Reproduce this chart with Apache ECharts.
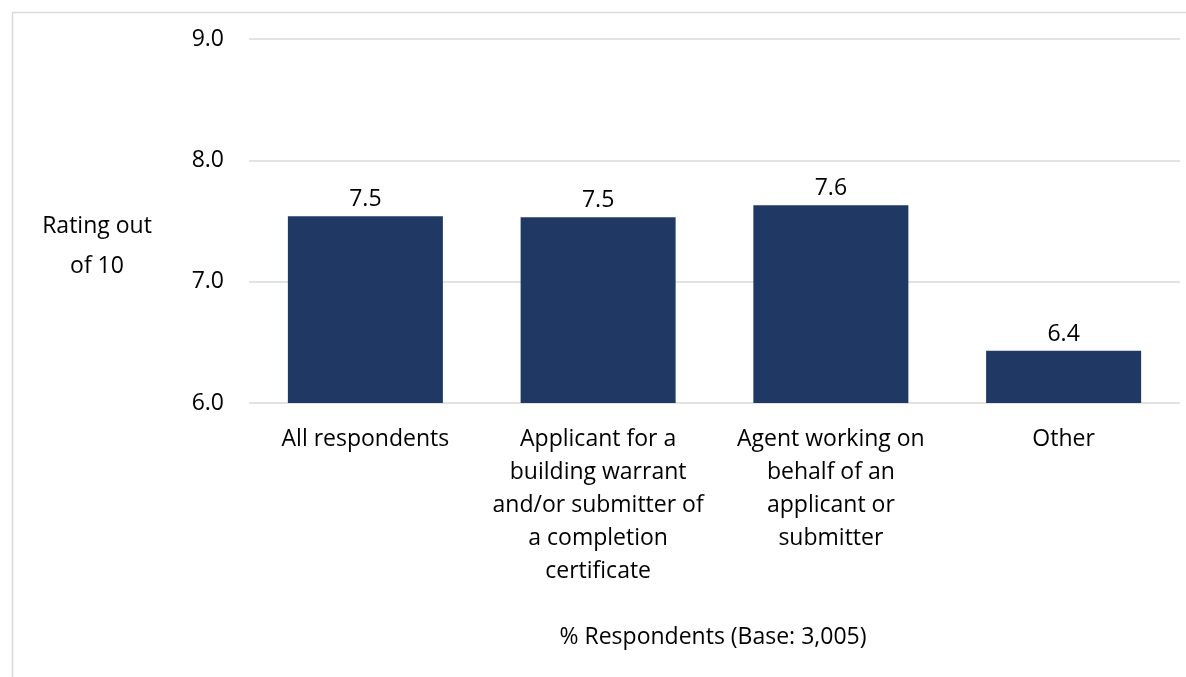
<!DOCTYPE html>
<html>
<head>
<meta charset="utf-8">
<script src="https://cdn.jsdelivr.net/npm/echarts@6/dist/echarts.min.js"></script>
<style>
  html, body { margin: 0; padding: 0; background: #fff; }
  #main { width: 1186px; height: 677px; }
</style>
</head>
<body>
<div id="main"></div>
<script>
// 图表数据
var categories = [
  'All respondents',
  'Applicant for a\nbuilding warrant\nand/or submitter of\na completion\ncertificate',
  'Agent working on\nbehalf of an\napplicant or\nsubmitter',
  'Other'
];
var ratings = [7.54, 7.53, 7.63, 6.43];
var yTicks = [6, 7, 8, 9];

var fontName = 'Open Sans';
var fs = 23;
var chart = echarts.init(document.getElementById('main'));

var option = {
  backgroundColor: '#fff',
  animation: false,
  textStyle: { fontFamily: fontName },
  grid: {
    left: 249,
    right: 6,
    top: 39,
    bottom: 274
  },
  graphic: [{
    type: 'rect',
    left: 10,
    top: 10,
    shape: { width: 1200, height: 700 },
    style: { fill: 'none', stroke: '#d9d9d9', lineWidth: 1.5 },
    silent: true
  }, {
    type: 'text',
    x: 97,
    y: 246,
    style: {
      text: 'Rating out\nof 10',
      font: fs + 'px ' + fontName,
      fill: '#000',
      lineHeight: 40,
      align: 'center',
      verticalAlign: 'middle'
    }
  }, {
    type: 'text',
    x: 713,
    y: 637,
    style: {
      text: '% Respondents (Base: 3,005)',
      font: fs + 'px ' + fontName,
      fill: '#000',
      align: 'center',
      verticalAlign: 'middle'
    }
  }],
  xAxis: {
    type: 'category',
    data: categories,
    axisLine: { show: false },
    axisTick: { show: false },
    axisLabel: {
      color: '#000',
      fontSize: fs,
      fontFamily: fontName,
      lineHeight: 33,
      margin: 20,
      interval: 0
    }
  },
  yAxis: {
    type: 'value',
    min: yTicks[0],
    max: yTicks[yTicks.length - 1],
    interval: 1,
    axisLine: { show: false },
    axisTick: { show: false },
    splitLine: { lineStyle: { color: '#d9d9d9', width: 1.5 } },
    axisLabel: {
      color: '#000',
      fontSize: fs,
      fontFamily: fontName,
      margin: 25,
      formatter: function (v) { return v.toFixed(1); }
    }
  },
  series: [{
    type: 'bar',
    data: ratings,
    barCategoryGap: '33.4%',
    itemStyle: { color: '#203864' },
    label: {
      show: true,
      position: 'top',
      distance: 5,
      color: '#000',
      fontSize: fs,
      fontFamily: fontName,
      formatter: function (p) { return p.value.toFixed(1); }
    }
  }]
};
chart.setOption(option);
</script>
</body>
</html>
